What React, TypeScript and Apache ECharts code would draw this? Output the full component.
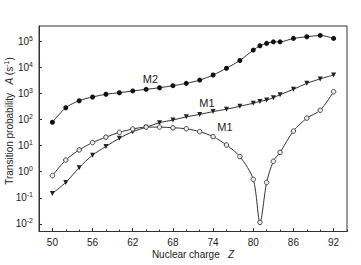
import React, { useEffect, useRef } from 'react';
import * as echarts from 'echarts';

const zValues = [50, 52, 54, 56, 58, 60, 62, 64, 66, 68, 70, 72, 74, 76, 78, 80, 81, 82, 83, 84, 86, 88, 90, 92];
const m2Values = [78, 280, 520, 720, 920, 1050, 1230, 1420, 1630, 1950, 2400, 3200, 5000, 9100, 18000, 45000, 66000, 81000, 93000, 93000, 126000, 145000, 163000, 126000];
const m1UpperValues = [0.148, 0.39, 1.43, 4.3, 9.3, 19, 34, 50, 75, 95, 126, 155, 200, 245, 320, 415, 490, 550, 680, 880, 1420, 2400, 3550, 5000];
const m1LowerValues = [0.71, 2.8, 6.8, 13, 21, 32, 43, 51, 51, 48, 44, 34, 22, 10.5, 3.8, 0.51, 0.0115, 0.39, 2.5, 5.5, 36, 112, 225, 1150];
const xMajorTicks = [50, 56, 62, 68, 74, 80, 86, 92];
const xMin = 48;
const xMax = 94;
const yMinExp = -2.287;
const yMaxExp = 5.574;

const FONT = 'Liberation Sans, Arial, sans-serif';
const INK = '#222';
const LINE = '#333';

export default function App() {
  const ref = useRef<HTMLDivElement>(null);
  useEffect(() => {
    const chart = echarts.init(ref.current!, null, { renderer: 'svg' });
    const pair = (vals: number[]) => zValues.map((z, i) => [z, vals[i]]);
    chart.setOption({
      animation: false,
      textStyle: { fontFamily: FONT },
      grid: { left: 39, top: 26, right: 14, bottom: 33.5, show: true, borderColor: LINE, borderWidth: 1 },
      xAxis: [
        {
          type: 'value', min: xMin, max: xMax, interval: 2,
          axisLine: { lineStyle: { color: LINE, width: 1 } },
          axisTick: { inside: true, length: 2, lineStyle: { color: LINE } },
          axisLabel: { customValues: xMajorTicks, margin: 6, fontSize: 10, color: INK, fontFamily: FONT },
          splitLine: { show: false },
        },
        {
          type: 'value', min: xMin, max: xMax, position: 'bottom',
          axisLine: { show: false },
          axisTick: { inside: true, length: 3.5, customValues: xMajorTicks, lineStyle: { color: LINE } },
          axisLabel: { show: false },
          splitLine: { show: false },
        },
      ],
      yAxis: {
        type: 'log', logBase: 10,
        min: Math.pow(10, yMinExp), max: Math.pow(10, yMaxExp),
        axisLine: { lineStyle: { color: LINE, width: 1 } },
        axisTick: { inside: true, length: 3, lineStyle: { color: LINE } },
        minorTick: { show: false },
        splitLine: { show: false },
        axisLabel: {
          showMinLabel: false, showMaxLabel: false, margin: 6,
          formatter: (v: number) => `{b|10}{s|${Math.round(Math.log10(v))}}`,
          rich: {
            b: { fontSize: 10, color: INK, fontFamily: FONT },
            s: { fontSize: 7, color: INK, fontFamily: FONT, padding: [0, 0, 6, 0] },
          },
        },
      },
      series: [
        {
          type: 'line', data: pair(m2Values), smooth: 0.3,
          symbol: 'circle', symbolSize: 5,
          itemStyle: { color: '#111' },
          lineStyle: { color: LINE, width: 1 },
        },
        {
          type: 'line', data: pair(m1UpperValues), smooth: 0.3,
          symbol: 'triangle', symbolRotate: 180, symbolSize: 5,
          itemStyle: { color: '#222' },
          lineStyle: { color: LINE, width: 1 },
        },
        {
          type: 'line', data: pair(m1LowerValues), smooth: 0.3,
          symbol: 'circle', symbolSize: 4.5,
          itemStyle: { color: '#eeeeee', borderColor: '#444', borderWidth: 1 },
          lineStyle: { color: LINE, width: 1 },
        },
      ],
      graphic: [
        { type: 'text', x: 150.5, y: 79, style: { text: 'M2', fontSize: 11, fontFamily: FONT, fill: INK, align: 'center', verticalAlign: 'middle' } },
        { type: 'text', x: 207, y: 102.5, style: { text: 'M1', fontSize: 11, fontFamily: FONT, fill: INK, align: 'center', verticalAlign: 'middle' } },
        { type: 'text', x: 225, y: 127, style: { text: 'M1', fontSize: 11, fontFamily: FONT, fill: INK, align: 'center', verticalAlign: 'middle' } },
        {
          type: 'text', x: 193, y: 254.5,
          style: {
            text: '{n|Nuclear charge}   {i|Z}', align: 'center', verticalAlign: 'middle',
            fontSize: 10, fontFamily: FONT, fill: INK,
            rich: { n: { fontSize: 10, fontFamily: FONT, fill: INK }, i: { fontSize: 10, fontFamily: FONT, fill: INK, fontStyle: 'italic' } },
          },
        },
        {
          type: 'text', x: 9, y: 121, rotation: Math.PI / 2,
          style: {
            text: '{n|Transition probability}   {i|A} {n|(s}{s|-1}{n|)}', align: 'center', verticalAlign: 'middle',
            fontSize: 10, fontFamily: FONT, fill: INK,
            rich: {
              n: { fontSize: 10, fontFamily: FONT, fill: INK },
              i: { fontSize: 10, fontFamily: FONT, fill: INK, fontStyle: 'italic' },
              s: { fontSize: 7, fontFamily: FONT, fill: INK, padding: [0, 0, 6, 0] },
            },
          },
        },
      ],
    });
    return () => chart.dispose();
  }, []);
  return <div ref={ref} style={{ position: 'absolute', left: 0, top: 0, width: 361, height: 265 }} />;
}
